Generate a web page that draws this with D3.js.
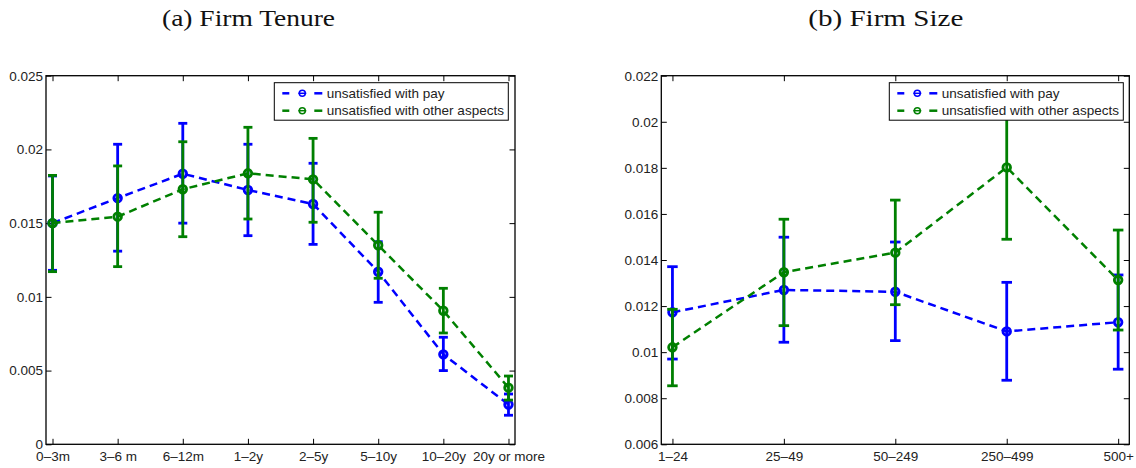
<!DOCTYPE html>
<html>
<head>
<meta charset="utf-8">
<script src="https://cdn.jsdelivr.net/npm/d3@7"></script>
<style>
  body { margin: 0; background: #fff; }
  svg { display: block; }
  .tick text { font-family: "Liberation Sans", Arial, sans-serif; font-size: 13.5px; fill: #222; }
  .tick line { stroke: #000; stroke-width: 1; }
</style>
</head>
<body>
<svg id="chart" width="1136" height="468"></svg>
<script>
// ---------- Data ----------
const tenureCategories = ["0\u20133m", "3\u20136 m", "6\u201312m", "1\u20132y", "2\u20135y", "5\u201310y", "10\u201320y", "20y or more"];
const tenurePay      = [0.0150, 0.0167, 0.01835, 0.01725, 0.0163, 0.0117, 0.0061, 0.0027];
const tenurePayLow   = [0.0118, 0.0131, 0.0150, 0.01415, 0.01356, 0.00963, 0.0050, 0.00197];
const tenurePayHigh  = [0.0182, 0.02035, 0.02177, 0.02035, 0.01906, 0.01374, 0.00726, 0.00341];
const tenureOther     = [0.0150, 0.01544, 0.0173, 0.01838, 0.01797, 0.0135, 0.00906, 0.00384];
const tenureOtherLow  = [0.01171, 0.01205, 0.01408, 0.01528, 0.01506, 0.01126, 0.00755, 0.0030];
const tenureOtherHigh = [0.01824, 0.01888, 0.02052, 0.0215, 0.02075, 0.01574, 0.01058, 0.00463];
const tenureTicks = [0, 0.005, 0.01, 0.015, 0.02, 0.025];
const tenureTickLabels = ["0", "0.005", "0.01", "0.015", "0.02", "0.025"];

const sizeCategories = ["1\u201324", "25\u201349", "50\u2013249", "250\u2013499", "500+"];
const sizePay      = [0.01173, 0.0127, 0.01262, 0.0109, 0.0113];
const sizePayLow   = [0.0097, 0.01043, 0.0105, 0.00878, 0.00926];
const sizePayHigh  = [0.01371, 0.01499, 0.01478, 0.01303, 0.01335];
const sizeOther     = [0.01021, 0.01347, 0.01432, 0.01802, 0.01313];
const sizeOtherLow  = [0.00854, 0.01115, 0.01206, 0.0149, 0.01096];
const sizeOtherHigh = [0.01186, 0.01577, 0.0166, 0.0211, 0.0153];
const sizeTicks = [0.006, 0.008, 0.01, 0.012, 0.014, 0.016, 0.018, 0.02, 0.022];
const sizeTickLabels = ["0.006", "0.008", "0.01", "0.012", "0.014", "0.016", "0.018", "0.02", "0.022"];

const seriesNames = ["unsatisfied with pay", "unsatisfied with other aspects"];
const seriesColors = ["#0000ff", "#008000"];

// ---------- Drawing ----------
const svg = d3.select("#chart");

function panel(opt) {
  const { left, right, top, bottom, cats, yDomain, yTicks, yLabels, series, title, titleX, titleW, capW, legendX } = opt;
  const n = cats.length;
  const x = d3.scaleLinear().domain([0.9, n + 0.1]).range([left, right]);
  const y = d3.scaleLinear().domain(yDomain).range([bottom, top]);
  const idx = d3.range(1, n + 1);
  const g = svg.append("g");

  // title
  svg.append("text")
    .attr("x", titleX).attr("y", 26)
    .attr("text-anchor", "middle")
    .attr("font-family", "'Liberation Serif', 'DejaVu Serif', serif")
    .attr("font-size", 23.5)
    .attr("textLength", titleW)
    .attr("lengthAdjust", "spacingAndGlyphs")
    .attr("fill", "#111")
    .text(title);

  // axes
  const xb = d3.axisBottom(x).tickValues(idx).tickFormat(i => cats[i - 1]).tickSizeInner(-5.5).tickSizeOuter(0).tickPadding(7);
  const xt = d3.axisTop(x).tickValues(idx).tickFormat("").tickSizeInner(-5.5).tickSizeOuter(0);
  const yl = d3.axisLeft(y).tickValues(yTicks).tickFormat((d, i) => yLabels[i]).tickSizeInner(-5.5).tickSizeOuter(0).tickPadding(3);
  const yr = d3.axisRight(y).tickValues(yTicks).tickFormat("").tickSizeInner(-5.5).tickSizeOuter(0);

  g.append("g").attr("transform", `translate(0,${bottom})`).call(xb).call(a => a.select(".domain").remove());
  g.append("g").attr("transform", `translate(0,${top})`).call(xt).call(a => a.select(".domain").remove());
  g.append("g").attr("transform", `translate(${left},0)`).call(yl).call(a => a.select(".domain").remove());
  g.append("g").attr("transform", `translate(${right},0)`).call(yr).call(a => a.select(".domain").remove());

  // series
  series.forEach((s, si) => {
    const col = seriesColors[si];
    const sg = g.append("g");
    const pts = idx.map((i, k) => ({ i, v: s.v[k], lo: s.lo[k], hi: s.hi[k] }));
    sg.append("path")
      .datum(pts)
      .attr("d", d3.line().x(d => x(d.i)).y(d => y(d.v)))
      .attr("fill", "none").attr("stroke", col).attr("stroke-width", 2.5)
      .attr("stroke-dasharray", "8,5");
    const eb = sg.selectAll(".eb").data(pts).enter().append("g");
    eb.append("line")
      .attr("x1", d => x(d.i)).attr("x2", d => x(d.i))
      .attr("y1", d => y(d.lo)).attr("y2", d => y(d.hi))
      .attr("stroke", col).attr("stroke-width", 2.8);
    ["lo", "hi"].forEach(k => {
      eb.append("line")
        .attr("x1", d => x(d.i) - capW / 2).attr("x2", d => x(d.i) + capW / 2)
        .attr("y1", d => y(d[k])).attr("y2", d => y(d[k]))
        .attr("stroke", col).attr("stroke-width", 2.8);
    });
    sg.selectAll(".mk").data(pts).enter().append("circle")
      .attr("cx", d => x(d.i)).attr("cy", d => y(d.v)).attr("r", 3.8)
      .attr("fill", "none").attr("stroke", col).attr("stroke-width", 2.8);
  });

  // frame
  g.append("rect")
    .attr("x", left).attr("y", top).attr("width", right - left).attr("height", bottom - top)
    .attr("fill", "none").attr("stroke", "#000").attr("stroke-width", 1.3);

  // legend
  const lg = g.append("g").attr("transform", `translate(${legendX},${top + 7})`);
  lg.append("rect").attr("x", 0).attr("y", 0).attr("width", 234).attr("height", 37.5)
    .attr("fill", "#fff").attr("stroke", "#000").attr("stroke-width", 1);
  seriesNames.forEach((name, si) => {
    const col = seriesColors[si];
    const cy = 10.6 + si * 17.4;
    lg.append("line").attr("x1", 8).attr("x2", 15).attr("y1", cy).attr("y2", cy).attr("stroke", col).attr("stroke-width", 2.5);
    lg.append("line").attr("x1", 24).attr("x2", 32).attr("y1", cy).attr("y2", cy).attr("stroke", col).attr("stroke-width", 1.5);
    lg.append("circle").attr("cx", 28).attr("cy", cy).attr("r", 3).attr("fill", "none").attr("stroke", col).attr("stroke-width", 1.5);
    lg.append("line").attr("x1", 40).attr("x2", 48).attr("y1", cy).attr("y2", cy).attr("stroke", col).attr("stroke-width", 2.5);
    lg.append("text").attr("x", 52.5).attr("y", cy + 4.8)
      .attr("font-family", "'Liberation Sans', Arial, sans-serif").attr("font-size", 13.5).attr("fill", "#222")
      .text(name);
  });
}

panel({
  left: 46, right: 515, top: 75.7, bottom: 444.3,
  cats: tenureCategories, yDomain: [0, 0.025], yTicks: tenureTicks, yLabels: tenureTickLabels,
  series: [
    { v: tenurePay, lo: tenurePayLow, hi: tenurePayHigh },
    { v: tenureOther, lo: tenureOtherLow, hi: tenureOtherHigh }
  ],
  title: "(a) Firm Tenure", titleX: 248.5, titleW: 173, capW: 9, legendX: 274.3
});

panel({
  left: 661.3, right: 1129.3, top: 75.7, bottom: 444.3,
  cats: sizeCategories, yDomain: [0.006, 0.022], yTicks: sizeTicks, yLabels: sizeTickLabels,
  series: [
    { v: sizePay, lo: sizePayLow, hi: sizePayHigh },
    { v: sizeOther, lo: sizeOtherLow, hi: sizeOtherHigh }
  ],
  title: "(b) Firm Size", titleX: 885.8, titleW: 155, capW: 10.5, legendX: 889.3
});
</script>
</body>
</html>
